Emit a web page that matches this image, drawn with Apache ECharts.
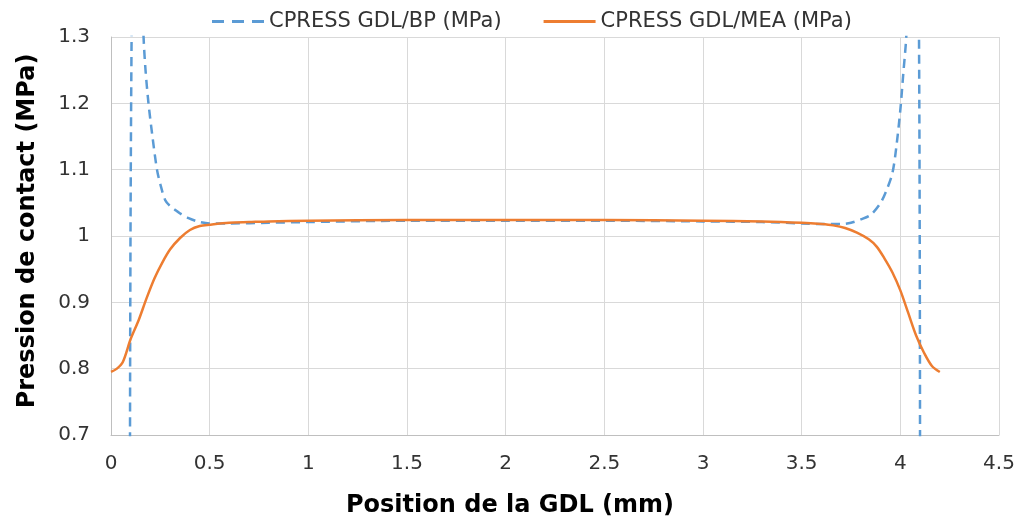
<!DOCTYPE html>
<html>
<head>
<meta charset="utf-8">
<script src="https://cdn.jsdelivr.net/npm/echarts@6/dist/echarts.min.js"></script>
<style>
  html, body { margin: 0; padding: 0; background: #ffffff; }
  #chart { width: 1020px; height: 525px; }
</style>
</head>
<body>
<div id="chart"></div>
<script>
// Contact pressure along the GDL width: [position (mm), pressure (MPa)]
const seriesNames = ['CPRESS GDL/BP (MPa)', 'CPRESS GDL/MEA (MPa)'];

// GDL / bipolar plate: sharp singularities at both rib edges (values beyond the axis are clipped)
const cpressBP = [
  [0.096, 0.60], [0.112, 1.50], [0.150, 1.55], [0.160, 1.36],
  [0.165, 1.30], [0.175, 1.25], [0.190, 1.20], [0.210, 1.150],
  [0.233, 1.100], [0.250, 1.078], [0.275, 1.054], [0.300, 1.045],
  [0.326, 1.039], [0.350, 1.034], [0.393, 1.027], [0.450, 1.021],
  [0.500, 1.019], [0.600, 1.019], [0.800, 1.020], [1.000, 1.021],
  [1.500, 1.023], [2.000, 1.023], [2.500, 1.023], [3.000, 1.022],
  [3.300, 1.021], [3.500, 1.019], [3.600, 1.018], [3.700, 1.018],
  [3.750, 1.020], [3.800, 1.025], [3.850, 1.032], [3.900, 1.050],
  [3.930, 1.069], [3.960, 1.095], [3.980, 1.135], [4.000, 1.190],
  [4.015, 1.245], [4.030, 1.300], [4.050, 1.450], [4.085, 1.50],
  [4.100, 0.60]
];

// GDL / membrane electrode assembly
const cpressMEA = [
  [0.00, 0.795], [0.03, 0.800], [0.06, 0.810], [0.10, 0.845],
  [0.14, 0.873], [0.18, 0.906], [0.22, 0.936], [0.26, 0.960],
  [0.30, 0.980], [0.35, 0.997], [0.40, 1.009], [0.45, 1.015],
  [0.50, 1.017], [0.60, 1.020], [0.70, 1.021], [0.80, 1.022],
  [1.00, 1.023], [1.50, 1.024], [2.00, 1.024], [2.50, 1.024],
  [3.00, 1.023], [3.30, 1.022], [3.50, 1.020], [3.60, 1.018],
  [3.66, 1.016], [3.72, 1.012], [3.78, 1.005], [3.84, 0.995],
  [3.88, 0.984], [3.92, 0.966], [3.96, 0.945], [4.00, 0.918],
  [4.04, 0.884], [4.08, 0.850], [4.12, 0.824], [4.16, 0.804],
  [4.20, 0.795]
];

const xTitle = 'Position de la GDL (mm)';
const yTitle = 'Pression de contact (MPa)';

const chart = echarts.init(document.getElementById('chart'), null, { renderer: 'canvas' });
const font = 'Verdana, "DejaVu Sans", sans-serif';
const tickFmt = v => String(+v.toFixed(1));

chart.setOption({
  animation: false,
  backgroundColor: '#ffffff',
  // x-axis title is centred on the whole figure rather than on the plot area
  title: {
    text: xTitle,
    left: 'center',
    bottom: 2,
    textStyle: { fontFamily: font, fontSize: 24, fontWeight: 'bold', color: '#000000' }
  },
  legend: {
    top: 6,
    left: 207,
    itemWidth: 52,
    itemHeight: 14,
    itemGap: 42,
    textStyle: { fontFamily: font, fontSize: 21, color: '#333333' },
    data: [
      { name: seriesNames[0], icon: 'path://M0,6 H12 V9 H0 Z M20,6 H32 V9 H20 Z M40,6 H52 V9 H40 Z', itemStyle: { color: '#5B9BD5' } },
      { name: seriesNames[1], icon: 'path://M0,6 H52 V9 H0 Z', itemStyle: { color: '#ED7D31' } }
    ]
  },
  grid: { left: 111, right: 21, top: 37, bottom: 90, containLabel: false },
  xAxis: {
    type: 'value',
    min: 0, max: 4.5, interval: 0.5,
    axisLine: { show: true, lineStyle: { color: '#bfbfbf', width: 1 } },
    axisTick: { show: false },
    axisLabel: { margin: 19, fontFamily: font, fontSize: 20, color: '#333333', formatter: tickFmt },
    splitLine: { show: true, lineStyle: { color: '#d9d9d9', width: 1 } }
  },
  yAxis: {
    type: 'value',
    min: 0.7, max: 1.3, interval: 0.1,
    name: yTitle,
    nameLocation: 'middle',
    nameRotate: 90,
    nameGap: 71,
    nameTextStyle: { fontFamily: font, fontSize: 24, fontWeight: 'bold', color: '#000000', padding: [0, 0, 0, 10] },
    axisLine: { show: true, lineStyle: { color: '#bfbfbf', width: 1 } },
    axisTick: { show: false },
    axisLabel: { margin: 21, fontFamily: font, fontSize: 20, color: '#333333', formatter: tickFmt },
    splitLine: { show: true, lineStyle: { color: '#d9d9d9', width: 1 } }
  },
  series: [
    {
      name: seriesNames[0],
      type: 'line',
      data: cpressBP,
      showSymbol: false,
      clip: true,
      smooth: 0.3,
      lineStyle: { color: '#5B9BD5', width: 2.5, type: [9, 6] },
      itemStyle: { color: '#5B9BD5' },
      z: 2
    },
    {
      name: seriesNames[1],
      type: 'line',
      data: cpressMEA,
      showSymbol: false,
      clip: true,
      smooth: 0.3,
      lineStyle: { color: '#ED7D31', width: 2.5 },
      itemStyle: { color: '#ED7D31' },
      z: 3
    }
  ]
});
</script>
</body>
</html>
